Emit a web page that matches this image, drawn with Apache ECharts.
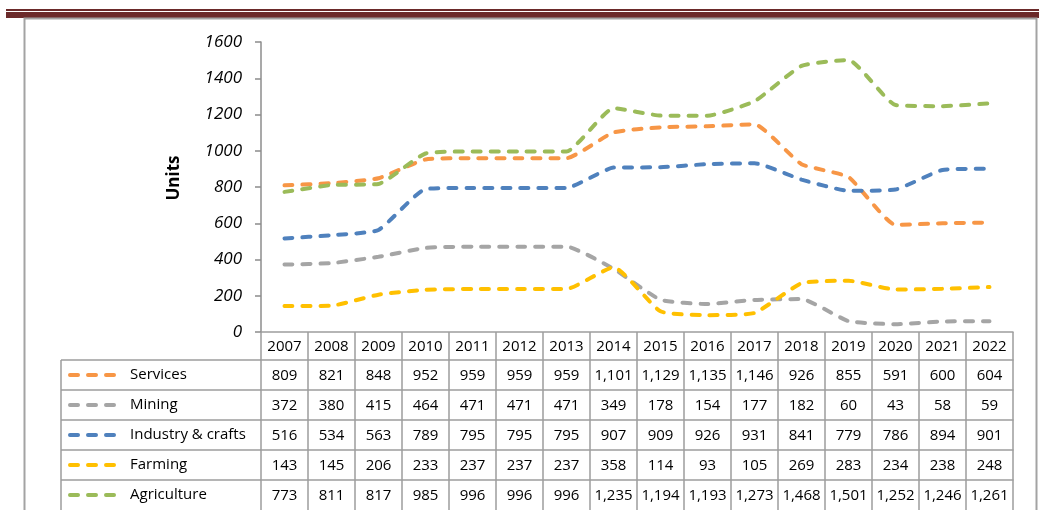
<!DOCTYPE html>
<html>
<head>
<meta charset="utf-8">
<script src="https://cdn.jsdelivr.net/npm/echarts@6/dist/echarts.min.js"></script>
<style>
  html, body { margin: 0; padding: 0; background: #fff; }
  #chart { width: 1039px; height: 510px; }
</style>
</head>
<body>
<div id="chart"></div>
<script>
const years = ['2007','2008','2009','2010','2011','2012','2013','2014','2015','2016','2017','2018','2019','2020','2021','2022']
const services = [809,821,848,952,959,959,959,1101,1129,1135,1146,926,855,591,600,604]
const mining = [372,380,415,464,471,471,471,349,178,154,177,182,60,43,58,59]
const industry = [516,534,563,789,795,795,795,907,909,926,931,841,779,786,894,901]
const farming = [143,145,206,233,237,237,237,358,114,93,105,269,283,234,238,248]
const agriculture = [773,811,817,985,996,996,996,1235,1194,1193,1273,1468,1501,1252,1246,1261]
const yTicks = [0,200,400,600,800,1000,1200,1400,1600]

const rows = [
  { name: 'Services', data: services, color: '#F79646' },
  { name: 'Mining', data: mining, color: '#A5A5A5' },
  { name: 'Industry & crafts', data: industry, color: '#4F81BD' },
  { name: 'Farming', data: farming, color: '#FFC000' },
  { name: 'Agriculture', data: agriculture, color: '#9BBB59' }
]

const border = '#9d9d9d'
const font = 'Open Sans'
const fmt = v => v.toLocaleString('en-US')
const dash = [8, 10]

const myChart = echarts.init(document.getElementById('chart'))

// header row (years) + one category axis per table row
const xAxes = [{
  type: 'category',
  data: years,
  position: 'bottom',
  offset: 0,
  axisLine: { lineStyle: { color: border, width: 1.5 } },
  axisTick: { show: true, interval: 0, length: 28, lineStyle: { color: border, width: 1.5 } },
  axisLabel: { interval: 0, margin: 7, fontSize: 15, color: '#000', fontFamily: font }
}]
rows.forEach((r, i) => {
  xAxes.push({
    type: 'category',
    data: years,
    position: 'bottom',
    offset: 28 + 30 * i,
    axisLine: { lineStyle: { color: border, width: 1.5 } },
    axisTick: { show: true, interval: 0, length: 30, lineStyle: { color: border, width: 1.5 } },
    axisLabel: {
      interval: 0, margin: 8, fontSize: 15, color: '#000', fontFamily: font,
      formatter: (v, idx) => fmt(r.data[idx])
    }
  })
})

// left column of the table: cell borders, dashed key and series name
const tableGraphics = []
const lineSt = { stroke: border, lineWidth: 1.5 }
tableGraphics.push({ type: 'line', shape: { x1: 61, y1: 360, x2: 61, y2: 512 }, style: lineSt })
rows.forEach((r, i) => {
  const top = 360 + 30 * i
  tableGraphics.push({ type: 'line', shape: { x1: 61, y1: top, x2: 261, y2: top }, style: lineSt })
  tableGraphics.push({
    type: 'line',
    shape: { x1: 70, y1: top + 15, x2: 122, y2: top + 15 },
    style: { stroke: r.color, lineWidth: 4, lineDash: dash, lineCap: 'round' }
  })
  tableGraphics.push({
    type: 'text', x: 130, y: top + 15,
    style: { text: r.name, fontSize: 15, fontFamily: font, fill: '#000', verticalAlign: 'middle' }
  })
})

myChart.setOption({
  animation: false,
  backgroundColor: '#fff',
  grid: { left: 261, right: 26, top: 42, bottom: 178, containLabel: false },
  xAxis: xAxes,
  yAxis: {
    type: 'value',
    min: 0,
    max: 1600,
    interval: 200,
    name: 'Units',
    nameLocation: 'middle',
    nameGap: 78,
    nameTextStyle: { fontSize: 17, fontWeight: 'bold', color: '#000', fontFamily: font, padding: [0, 0, 0, 18] },
    axisLine: { show: true, lineStyle: { color: '#8c8c8c', width: 1.5 } },
    axisTick: { show: true, length: 6, lineStyle: { color: '#8c8c8c', width: 1.5 } },
    splitLine: { show: false },
    axisLabel: {
      margin: 19, fontSize: 17, fontStyle: 'italic', color: '#000', fontFamily: font,
      formatter: v => yTicks.includes(v) ? String(v) : ''
    }
  },
  series: rows.map(r => ({
    name: r.name,
    type: 'line',
    xAxisIndex: 0,
    data: r.data,
    smooth: 0.15,
    symbol: 'none',
    color: r.color,
    lineStyle: { color: r.color, width: 4, type: dash, cap: 'round' }
  })),
  graphic: [
    { type: 'rect', shape: { x: 6, y: 9, width: 1033, height: 2 }, style: { fill: '#6b2a2a' } },
    { type: 'rect', shape: { x: 6, y: 12, width: 1033, height: 6 }, style: { fill: '#6b2a2a' } },
    { type: 'rect', shape: { x: 24.5, y: 18.5, width: 1012, height: 520 }, style: { fill: 'none', stroke: '#a3a3a3', lineWidth: 2 } }
  ].concat(tableGraphics)
})
</script>
</body>
</html>
